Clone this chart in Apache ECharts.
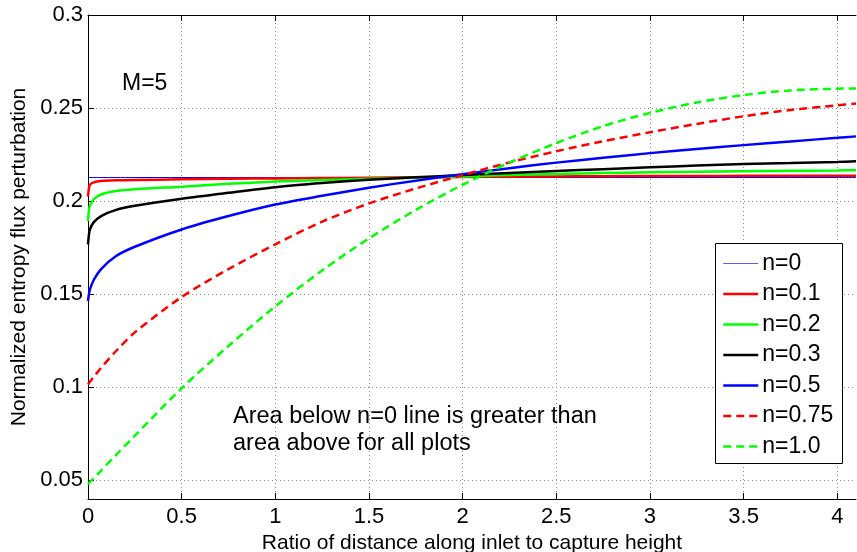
<!DOCTYPE html>
<html>
<head>
<meta charset="utf-8">
<script src="https://cdn.jsdelivr.net/npm/echarts@6/dist/echarts.min.js"></script>
<style>
html,body{margin:0;padding:0;background:#fff;}
#chart{width:857px;height:552px;}
</style>
</head>
<body>
<div id="chart"></div>
<script>
// Sample positions along x (ratio of distance along inlet to capture height)
const xs = [0, 0.005, 0.01, 0.03, 0.07, 0.15, 0.25, 0.5, 0.75, 1, 1.25, 1.5, 1.75, 2, 2.25, 2.5, 2.75, 3, 3.25, 3.5, 3.75, 4, 4.1];

const n0   = [0.2127,0.2127,0.2127,0.2127,0.2127,0.2127,0.2127,0.2127,0.2127,0.2127,0.2127,0.2127,0.2127,0.2127,0.2127,0.2127,0.2127,0.2127,0.2127,0.2127,0.2127,0.2127,0.2127];
const n01  = [0.2025,0.2070,0.2088,0.2101,0.2108,0.2112,0.2114,0.2117,0.2120,0.2122,0.2124,0.2126,0.2128,0.2130,0.2131,0.2133,0.2134,0.2135,0.2135,0.2136,0.2136,0.2137,0.2137];
const n02  = [0.1893,0.1950,0.1975,0.2010,0.2036,0.2054,0.2064,0.2078,0.2093,0.2105,0.2113,0.2120,0.2126,0.2132,0.2140,0.2146,0.2151,0.2155,0.2158,0.2161,0.2163,0.2165,0.2166];
const n03  = [0.1768,0.1820,0.1848,0.1886,0.1920,0.1953,0.1975,0.2013,0.2045,0.2075,0.2097,0.2115,0.2128,0.2140,0.2151,0.2162,0.2172,0.2182,0.2191,0.2199,0.2205,0.2211,0.2214];
const n05  = [0.1464,0.1500,0.1525,0.1575,0.1635,0.1705,0.1755,0.1848,0.1920,0.1982,0.2029,0.2072,0.2110,0.2145,0.2177,0.2207,0.2233,0.2258,0.2280,0.2301,0.2321,0.2340,0.2348];
const n075 = [0.1015,0.1022,0.1030,0.1055,0.1105,0.1195,0.1295,0.1485,0.1635,0.1768,0.1890,0.1988,0.2068,0.2140,0.2208,0.2268,0.2322,0.2370,0.2415,0.2456,0.2490,0.2515,0.2525];
const n10  = [0.0480,0.0485,0.0490,0.0512,0.0553,0.0637,0.0740,0.0995,0.1222,0.1435,0.1628,0.1800,0.1953,0.2088,0.2207,0.2312,0.2403,0.2474,0.2530,0.2570,0.2595,0.2604,0.2605];

const seriesNames = ['n=0','n=0.1','n=0.2','n=0.3','n=0.5','n=0.75','n=1.0'];
const xTicks = [0, 0.5, 1, 1.5, 2, 2.5, 3, 3.5, 4];
const yTicks = [0.05, 0.1, 0.15, 0.2, 0.25, 0.3];

const seriesData = [n0, n01, n02, n03, n05, n075, n10];
const colors = ['#0000ff','#ff0000','#00ff00','#000000','#0000ff','#ff0000','#00ff00'];
const widths = [1, 2.5, 2.5, 2.5, 2.5, 2.5, 2.5];
const dashed = [false,false,false,false,false,true,true];

const FONT = '"Liberation Sans", Arial, Helvetica, sans-serif';

const chart = echarts.init(document.getElementById('chart'), null, {renderer:'canvas'});

const series = seriesData.map((ys, i) => ({
  name: seriesNames[i],
  type: 'line',
  data: xs.map((x, j) => [x, ys[j]]),
  smooth: 0.3,
  symbol: 'none',
  clip: true,
  animation: false,
  lineStyle: { color: colors[i], width: widths[i], type: dashed[i] ? [8,5] : 'solid' },
  itemStyle: { color: colors[i] },
  emphasis: { disabled: true }
}));

const legendData = seriesNames.map((name, i) => ({
  name: name,
  lineStyle: { width: i === 0 ? 1 : 2.5, color: i === 0 ? '#5a5aff' : colors[i] }
}));

chart.setOption({
  animation: false,
  backgroundColor: '#fff',
  grid: { left: 88, right: 1, top: 15, bottom: 53, containLabel: false, outerBoundsMode: 'none' },
  xAxis: [{
    type: 'value', min: 0, max: 4.1, position: 'bottom',
    name: 'Ratio of distance along inlet to capture height',
    nameLocation: 'middle', nameGap: 28,
    nameTextStyle: { fontFamily: FONT, fontSize: 21, color: '#000' },
    axisLine: { show: true, onZero: false, lineStyle: { color: '#000', width: 1 } },
    axisTick: { show: true, inside: true, length: 6, customValues: xTicks, lineStyle: { color: '#000' } },
    axisLabel: { customValues: xTicks, fontFamily: FONT, fontSize: 22, color: '#000', margin: 7,
      formatter: v => String(v) },
    splitLine: { show: true, lineStyle: { color: '#8c8c8c', width: 1, type: [1,3] } }
  }, {
    type: 'value', min: 0, max: 4.1, position: 'top',
    axisLine: { show: true, onZero: false, lineStyle: { color: '#000', width: 1 } },
    axisTick: { show: true, inside: true, length: 6, customValues: xTicks, lineStyle: { color: '#000' } },
    axisLabel: { show: false },
    splitLine: { show: false }
  }],
  yAxis: [{
    type: 'value', min: 0.04, max: 0.3, position: 'left',
    name: 'Normalized entropy flux perturbation',
    nameLocation: 'middle', nameGap: 57,
    nameTextStyle: { fontFamily: FONT, fontSize: 21, color: '#000' },
    axisLine: { show: true, onZero: false, lineStyle: { color: '#000', width: 1 } },
    axisTick: { show: true, inside: true, length: 6, customValues: yTicks, lineStyle: { color: '#000' } },
    axisLabel: { customValues: yTicks, fontFamily: FONT, fontSize: 22, color: '#000', margin: 5,
      formatter: v => String(v) },
    splitLine: { show: true, lineStyle: { color: '#8c8c8c', width: 1, type: [1,3] } }
  }],
  legend: {
    show: true,
    orient: 'vertical',
    left: 715, top: 244,
    data: legendData,
    itemWidth: 35, itemHeight: 14, itemGap: 7.5,
    padding: [8, 10, 6, 7],
    borderWidth: 0, backgroundColor: 'transparent',
    selectedMode: false,
    z: 10,
    itemStyle: { opacity: 0 },
    textStyle: { fontFamily: FONT, fontSize: 23, color: '#000', padding: [0,0,0,-1] }
  },
  graphic: [
    { type: 'rect', z: 5, silent: true,
      shape: { x: 715.5, y: 243.5, width: 127, height: 220 },
      style: { fill: '#fff', stroke: '#000', lineWidth: 1 } },
    { type: 'text', left: 122, top: 72, silent: true,
      style: { text: 'M=5', font: '23px ' + FONT, fill: '#000' } },
    { type: 'text', x: 233, y: 417, silent: true,
      style: { text: 'Area below n=0 line is greater than', font: '23.5px ' + FONT, fill: '#000', textVerticalAlign: 'middle' } },
    { type: 'text', x: 233, y: 444, silent: true,
      style: { text: 'area above for all plots', font: '23.5px ' + FONT, fill: '#000', textVerticalAlign: 'middle' } }
  ],
  series: series
});
</script>
</body>
</html>
